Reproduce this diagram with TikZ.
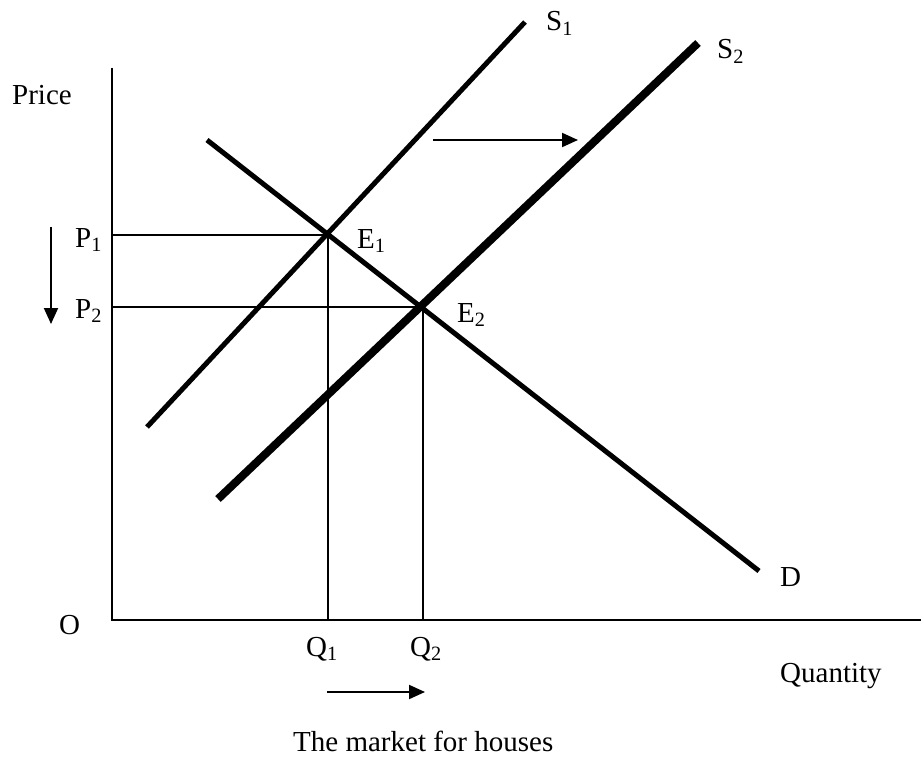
\documentclass[tikz,border=0pt]{standalone}
\usepackage{fontspec}
\setmainfont{Liberation Serif}
\usetikzlibrary{arrows.meta}
\begin{document}
\begin{tikzpicture}[x=1pt,y=-1pt,
  lbl/.style={inner sep=0pt,anchor=base west,font=\fontsize{29}{33}\selectfont},
  axis/.style={line width=2pt},
  guide/.style={line width=1.6pt},
  curve/.style={line width=5pt},
  curvethick/.style={line width=8pt},
  shiftarrow/.style={line width=2pt,-{Triangle[length=16pt,width=14pt]}}]
\useasboundingbox (0,0) rectangle (921,765);
% axes
\coordinate (ytop) at (112,68);
\coordinate (orig) at (112,620);
\coordinate (xend) at (921,620);
\draw[axis] (ytop) -- (orig) -- (xend);
% equilibria
\coordinate (E1) at (328,235);
\coordinate (E2) at (423,307);
\coordinate (P1) at (112,235);
\coordinate (P2) at (112,307);
\coordinate (Q1) at (328,620);
\coordinate (Q2) at (423,620);
\draw[guide] (P1) -- (E1) -- (Q1);
\draw[guide] (P2) -- (E2) -- (Q2);
% curves
\coordinate (s1a) at (147,427);
\coordinate (s1b) at (525,22);
\coordinate (s2a) at (218,499);
\coordinate (s2b) at (698,43);
\coordinate (da) at (207,140);
\coordinate (db) at (759,571);
\draw[curve] (s1a) -- (s1b);
\draw[curvethick] (s2a) -- (s2b);
\draw[curve] (da) -- (db);
% shift arrows
\coordinate (ta) at (433,140);
\coordinate (tb) at (578,140);
\draw[shiftarrow] (ta) -- (tb);
\coordinate (pa) at (51,227);
\coordinate (pb) at (51,324);
\draw[shiftarrow] (pa) -- (pb);
\coordinate (qa) at (327,692);
\coordinate (qb) at (425,692);
\draw[shiftarrow] (qa) -- (qb);
% labels
\node[lbl] (price) at (12,105) {Price};
\node[lbl] (p1lbl) at (75,247) {P\textsubscript{1}};
\node[lbl] (p2lbl) at (75,318) {P\textsubscript{2}};
\node[lbl] (e1lbl) at (357,248) {E\textsubscript{1}};
\node[lbl] (e2lbl) at (457,322) {E\textsubscript{2}};
\node[lbl] (s1lbl) at (546,31) {S\textsubscript{1}};
\node[lbl] (s2lbl) at (717,59) {S\textsubscript{2}};
\node[lbl] (dlbl) at (780,586) {D};
\node[lbl] (olbl) at (59,634) {O};
\node[lbl] (q1lbl) at (306,656) {Q\textsubscript{1}};
\node[lbl] (q2lbl) at (410,656) {Q\textsubscript{2}};
\node[lbl] (qty) at (780,682) {Quantity};
\node[lbl] (title) at (293,751) {The market for houses};
\end{tikzpicture}
\end{document}
